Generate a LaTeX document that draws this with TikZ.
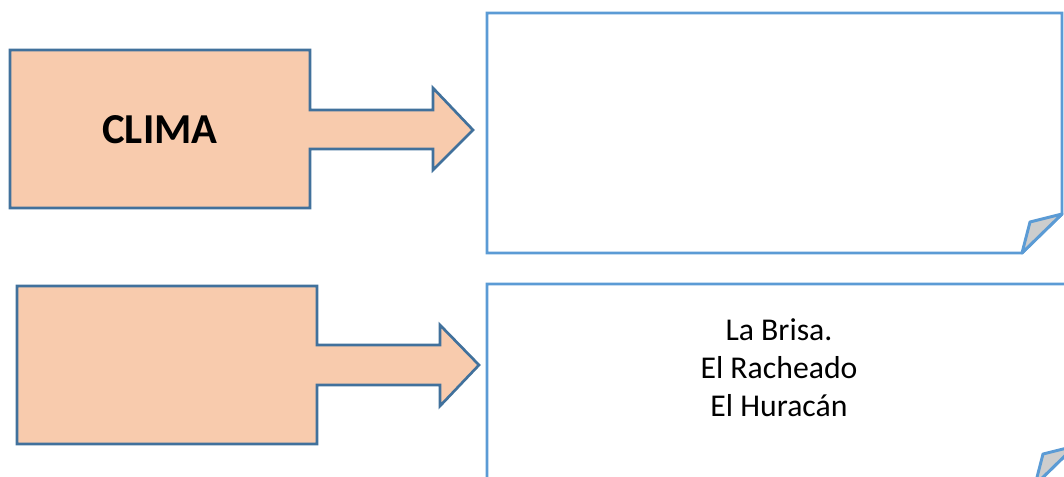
\documentclass[tikz,border=0pt]{standalone}
\usepackage{fontspec}
\setmainfont{Carlito}
\definecolor{calloutfill}{HTML}{F8CBAD}
\definecolor{calloutline}{HTML}{41719C}
\definecolor{boxline}{HTML}{5B9BD5}
\definecolor{foldfill}{HTML}{CDCDCD}
\tikzset{
  callout/.style={fill=calloutfill, draw=calloutline, line width=2pt, line join=miter},
  notebox/.style={fill=white, draw=boxline, line width=2.2pt, line join=miter},
  fold/.style={fill=foldfill, draw=boxline, line width=2.2pt, line join=round},
  bigtext/.style={font=\fontsize{32}{38}\selectfont\bfseries, inner sep=0pt},
  listtext/.style={font=\fontsize{23.8}{28.5}\selectfont, align=center, inner sep=0pt}
}
\begin{document}
\begin{tikzpicture}[x=0.75pt, y=-0.75pt]
\useasboundingbox (0,0) rectangle (1064,476);
\clip (0,0) rectangle (1064,476);
% top callout
\draw[callout] (10,50) -- (310,50) -- (310,110) -- (433,110) -- (433,88) -- (473,130)
  -- (433,170) -- (433,149) -- (310,149) -- (310,208) -- (10,208) -- cycle;
\node[bigtext, anchor=base] (clima) at (160,143) {CLIMA};
% bottom callout
\draw[callout] (17,286) -- (317,286) -- (317,345) -- (440,345) -- (440,325) -- (479,365)
  -- (440,406) -- (440,385) -- (317,385) -- (317,444) -- (17,444) -- cycle;
% top note box
\draw[notebox] (487,13) -- (1062,13) -- (1062,214) -- (1022,253) -- (487,253) -- cycle;
\draw[fold] (1022,253) -- (1030,222) -- (1062,214) -- cycle;
% bottom note box
\draw[notebox] (487,284) -- (1075,284) -- (1075,446) -- (1035,485) -- (487,485) -- cycle;
\draw[fold] (1035,485) -- (1043,454) -- (1075,446) -- cycle;
\node[listtext, anchor=base] (list) at (779,416) {La Brisa.\\El Racheado\\El Huracán};
\end{tikzpicture}
\end{document}
